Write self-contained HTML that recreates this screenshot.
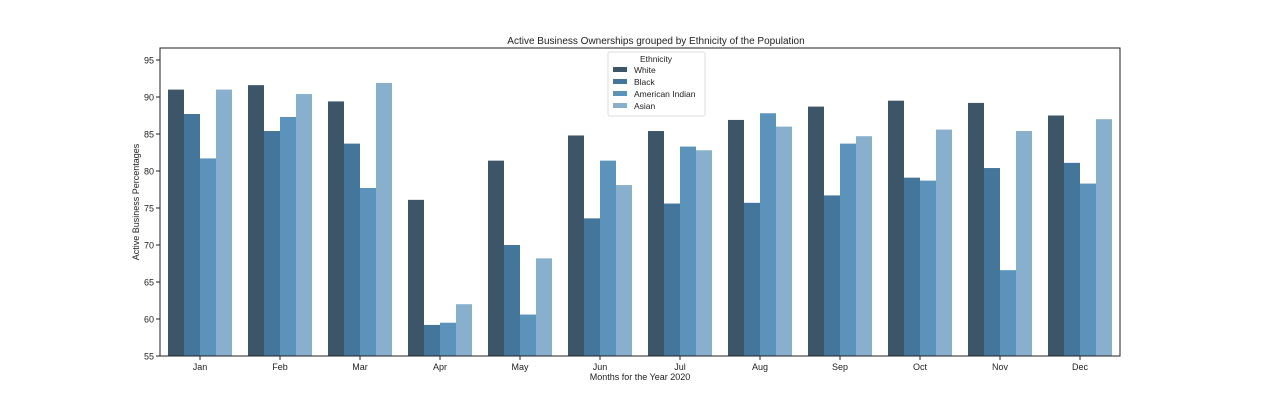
<!DOCTYPE html>
<html><head><meta charset="utf-8"><style>
body{margin:0;background:#fff;}
svg text{font-family:"Liberation Sans","DejaVu Sans",sans-serif;fill:#222;}
</style></head><body>
<svg id="chart" width="1280" height="407" xmlns="http://www.w3.org/2000/svg">
<rect width="1280" height="407" fill="#fff"/>
<text x="656" y="44" font-size="10" text-anchor="middle">Active Business Ownerships grouped by Ethnicity of the Population</text>
<g id="bars"></g>
<g id="axes"></g>
<text x="640" y="380" font-size="9" text-anchor="middle">Months for the Year 2020</text>
<text transform="translate(139,202) rotate(-90)" font-size="9" text-anchor="middle">Active Business Percentages</text>
<g id="legend"></g>
</svg>
<script>
const months=["Jan","Feb","Mar","Apr","May","Jun","Jul","Aug","Sep","Oct","Nov","Dec"];
const seriesNames=["White","Black","American Indian","Asian"];
const white=[91,91.6,89.4,76.1,81.4,84.8,85.4,86.9,88.7,89.5,89.2,87.5];
const black=[87.7,85.4,83.7,59.2,70,73.6,75.6,75.7,76.7,79.1,80.4,81.1];
const amIndian=[81.7,87.3,77.7,59.5,60.6,81.4,83.3,87.8,83.7,78.7,66.6,78.3];
const asian=[91,90.4,91.9,62,68.2,78.1,82.8,86,84.7,85.6,85.4,87];
const yTicks=[55,60,65,70,75,80,85,90,95];
const colors=["#3d5568","#44759a","#5b93bb","#88b0cd"];
const series=[white,black,amIndian,asian];
const L=160,R=1120,T=48,B=356,ymin=55,ymax=96.62;
const NS="http://www.w3.org/2000/svg";
const y=v=>B-(v-ymin)/(ymax-ymin)*(B-T);
const band=(R-L)/months.length;
const xc=i=>L+band*(i+0.5);
const bw=band*0.8/series.length;
function mk(t,a,p){const e=document.createElementNS(NS,t);for(const k in a)e.setAttribute(k,a[k]);p.appendChild(e);return e;}
const bars=document.getElementById('bars'),axes=document.getElementById('axes'),lg=document.getElementById('legend');
series.forEach((s,si)=>{s.forEach((v,i)=>{
 const r=mk('rect',{x:xc(i)-band*0.4+si*bw,y:y(v),width:bw,height:B-y(v),fill:colors[si]},bars);
 
 
});});
const frame=mk('rect',{x:L,y:T,width:R-L,height:B-T,fill:'none',stroke:'#222','stroke-width':1},axes);


yTicks.forEach(t=>{
 mk('line',{x1:L-4,x2:L,y1:y(t),y2:y(t),stroke:'#222'},axes);
 const tx=mk('text',{x:L-6,y:y(t)+3.5,'font-size':9,'text-anchor':'end'},axes);tx.textContent=t;
 
 
});
months.forEach((m,i)=>{
 mk('line',{x1:xc(i),x2:xc(i),y1:B,y2:B+4,stroke:'#222'},axes);
 const tx=mk('text',{x:xc(i),y:B+14,'font-size':9,'text-anchor':'middle'},axes);tx.textContent=m;
 
 
});
mk('rect',{x:608,y:52,width:97,height:64,fill:'#fff',stroke:'#ddd',rx:2},lg);
const lt=mk('text',{x:656,y:62,'font-size':8.5,'text-anchor':'middle'},lg);lt.textContent='Ethnicity';
seriesNames.forEach((n,i)=>{
 const g=mk('g',{},lg);
 
 
 mk('rect',{x:613,y:67+i*12,width:14,height:5,fill:colors[i]},g);
 const t=mk('text',{x:634,y:73+i*12,'font-size':8.5},g);t.textContent=n;
});
</script>
</body></html>
